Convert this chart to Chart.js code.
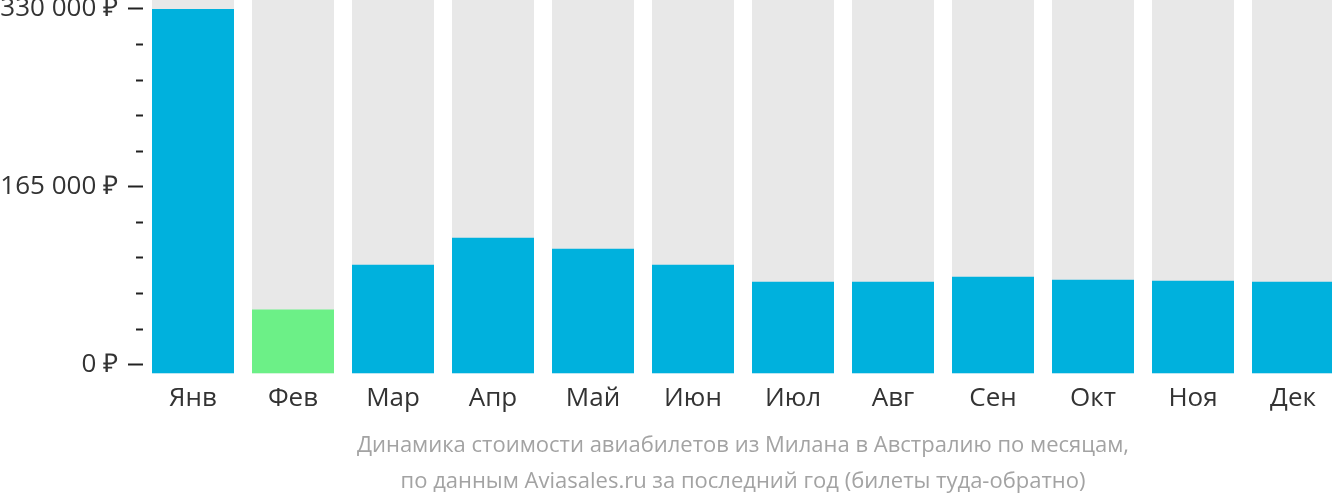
<!DOCTYPE html>
<html>
<head>
<meta charset="utf-8">
<script src="https://cdn.jsdelivr.net/npm/chart.js@4/dist/chart.umd.min.js"></script>
<style>
  html, body { margin: 0; padding: 0; background: #fff; }
  #wrap { width: 1332px; height: 502px; overflow: hidden; }
</style>
</head>
<body>
<div id="wrap"><canvas id="chart" width="1343" height="502"></canvas></div>
<script>
const months = ["Янв", "Фев", "Мар", "Апр", "Май", "Июн", "Июл", "Авг", "Сен", "Окт", "Ноя", "Дек"];
const prices = [330000, 57900, 98500, 123000, 113000, 98500, 83200, 83200, 87700, 85000, 84100, 83200];
const cheapest = 1;
const tickValues = [0, 33000, 66000, 99000, 132000, 165000, 198000, 231000, 264000, 297000, 330000];
const tickLabels = [0, 165000, 330000];
const titleLines = [
    "Динамика стоимости авиабилетов из Милана в Австралию по месяцам,",
    "по данным Aviasales.ru за последний год (билеты туда-обратно)"
];
const barMax = 338100;

const fmt = v => String(v).replace(/\B(?=(\d{3})+(?!\d))/g, " ") + " ₽";
const noPad = scale => {
    scale.paddingTop = 0;
    scale.paddingBottom = 0;
    scale.paddingLeft = 0;
    scale.paddingRight = 0;
};

const ctx = document.getElementById("chart").getContext("2d");
new Chart(ctx, {
    type: "bar",
    data: {
        labels: months,
        datasets: [
            {
                data: prices,
                backgroundColor: prices.map((v, i) => i === cheapest ? "#6cf087" : "#00b1dd"),
                yAxisID: "yb",
                grouped: false,
                order: 1,
                barPercentage: 0.82,
                categoryPercentage: 1,
                borderWidth: 0,
            },
            {
                data: months.map(() => barMax),
                backgroundColor: "#e8e8e8",
                yAxisID: "yb",
                grouped: false,
                order: 2,
                barPercentage: 0.82,
                categoryPercentage: 1,
                borderWidth: 0,
            },
        ],
    },
    options: {
        responsive: false,
        animation: false,
        layout: { padding: 0 },
        plugins: {
            legend: { display: false },
            tooltip: { enabled: false },
            title: {
                display: true,
                position: "bottom",
                fullSize: false,
                text: titleLines,
                color: "#a3a3a3",
                font: { family: "Open Sans", size: 22, weight: "normal", lineHeight: 1.6 },
                padding: { top: 15, bottom: 3 },
            },
        },
        scales: {
            x: {
                grid: { display: false },
                border: { display: false },
                ticks: {
                    color: "#333",
                    padding: 1,
                    font: { family: "Open Sans", size: 26 },
                },
                afterFit: scale => { noPad(scale); scale.height = 40; },
            },
            yb: {
                display: false,
                min: 0,
                max: barMax,
                afterFit: noPad,
            },
            y: {
                position: "left",
                min: -8343,
                max: 338343,
                border: { display: false },
                grid: {
                    display: true,
                    drawOnChartArea: false,
                    drawTicks: true,
                    tickLength: 15,
                    tickWidth: 2,
                    tickColor: "#222",
                    tickBorderDash: c => tickLabels.includes(c.tick.value) ? [] : [0, 8, 7, 100],
                },
                ticks: {
                    autoSkip: false,
                    padding: 10,
                    color: "#333",
                    font: { family: "Open Sans", size: 26 },
                    callback: v => tickLabels.includes(v) ? fmt(v) : "",
                },
                afterBuildTicks: scale => { scale.ticks = tickValues.map(value => ({ value })); },
                afterFit: scale => { noPad(scale); scale.width = 143; },
            },
        },
    },
});
</script>
</body>
</html>
